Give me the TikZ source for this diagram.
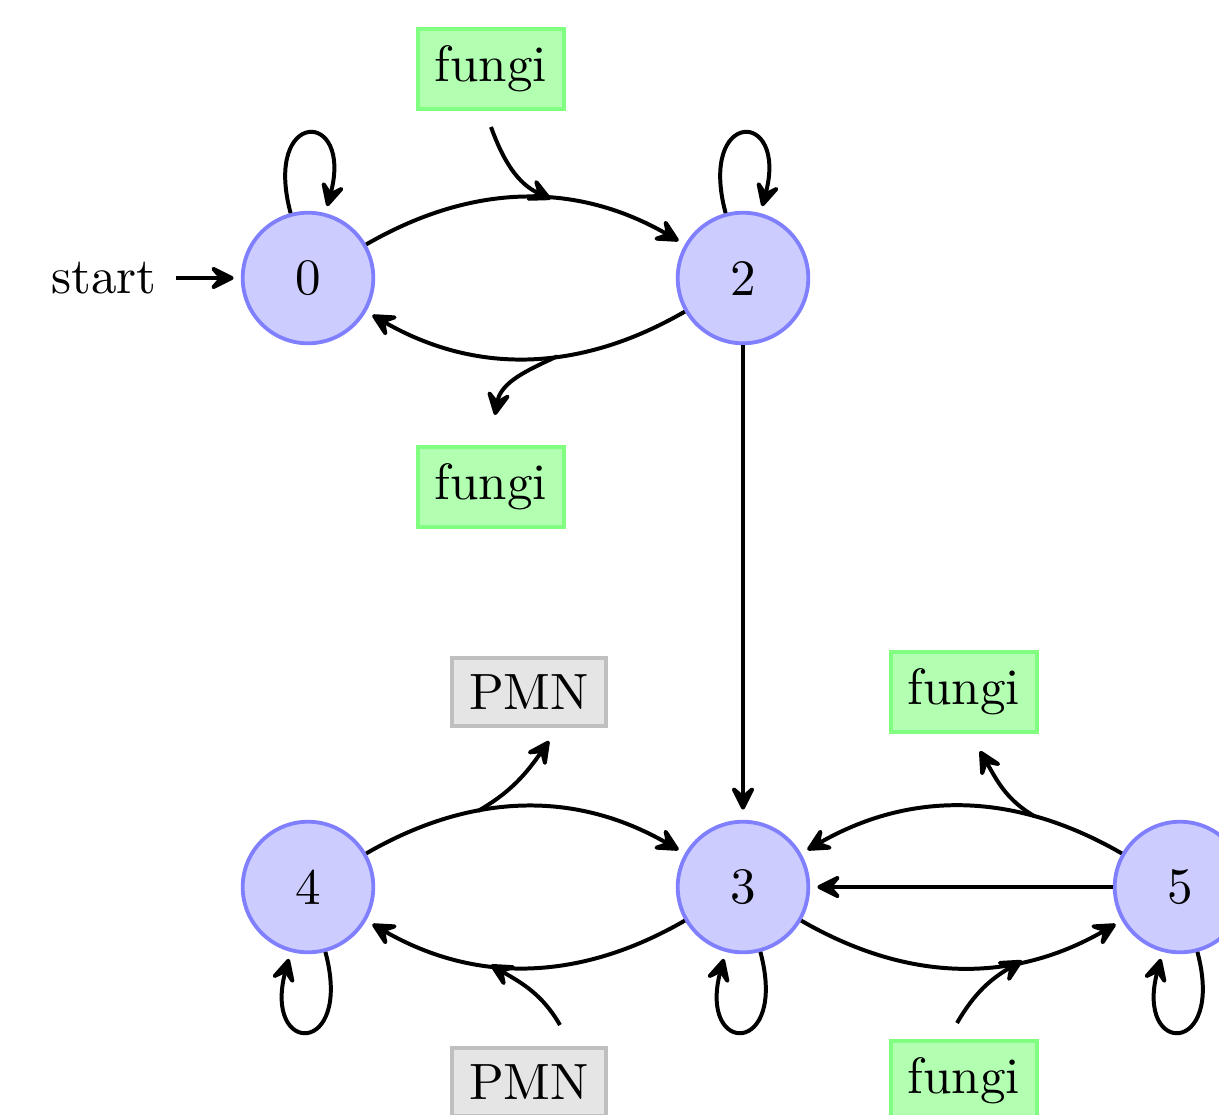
\documentclass[tikz,border=0pt]{standalone}
\usetikzlibrary{arrows.meta}
\begin{document}
\begin{tikzpicture}[x=0.196pt, y=0.196pt,
  >={Stealth[round, length=6pt, width=6pt, inset=2.6pt]},
  line width=0.78pt,
  trans/.style={->, shorten >=1.4pt},
  selfloop/.style={->, shorten >=1.4pt, looseness=9},
  stateb/.style={circle, draw=blue!50, fill=blue!20, line width=0.75pt, minimum size=25.6pt, inner sep=0pt},
  fungus/.style={rectangle, draw=green!50, fill=green!30, line width=0.8pt},
  cell/.style={rectangle, draw=black!25, fill=black!10, line width=0.8pt}]
\useasboundingbox (0,0) rectangle (1219,-1114);

% states
\node[stateb] (q0) at (308,-278) {0};
\node[stateb] (q2) at (743,-278) {2};
\node[stateb] (q4) at (308,-887) {4};
\node[stateb] (q3) at (743,-887) {3};
\node[stateb] (q5) at (1180,-887) {5};
\node (st) at (104,-278) {start};

% labels
\node[fungus] (f1) at (491,-69) {fungi};
\node[fungus] (f2) at (491,-487) {fungi};
\node[cell] (p1) at (529,-692) {PMN};
\node[cell] (p2) at (529,-1082) {PMN};
\node[fungus] (f3) at (964,-692) {fungi};
\node[fungus] (f4) at (964,-1081) {fungi};

% free ends of the label arrows
\coordinate (c1) at (491,-127);
\coordinate (c2) at (495,-415);
\coordinate (c3) at (549,-741);
\coordinate (c4) at (560,-1025);
\coordinate (c5) at (980,-751);
\coordinate (c6) at (957,-1023);

% transitions
\draw[trans] (st) -- (q0);
\draw[trans] (q0) to[bend left] coordinate[pos=0.58] (e02) (q2);
\draw[trans] (q2) to[bend left] coordinate[pos=0.4] (e20) (q0);
\draw[trans, shorten >=2pt] (q2) -- (q3);
\draw[trans] (q4) to[bend left] coordinate[pos=0.35] (e43) (q3);
\draw[trans] (q3) to[bend left] coordinate[pos=0.61] (e34) (q4);
\draw[trans] (q3) to[bend right] coordinate[pos=0.69] (e35) (q5);
\draw[trans] (q5) to[bend right] coordinate[pos=0.27] (e53) (q3);
\draw[trans] (q5) -- (q3);

% self loops
\draw[selfloop] (q0) to[loop above] (q0);
\draw[selfloop] (q2) to[loop above] (q2);
\draw[selfloop] (q4) to[loop below] (q4);
\draw[selfloop] (q3) to[loop below] (q3);
\draw[selfloop] (q5) to[loop below] (q5);

% label arrows
\draw[->] (c1) to[out=-70, in=155] (e02);
\draw[->] (e20) to[out=205, in=80] (c2);
\draw[->] (e43) to[out=30, in=235] (c3);
\draw[->] (c4) to[out=120, in=-30] (e34);
\draw[->] (e53) to[out=150, in=-60] (c5);
\draw[->] (c6) to[out=60, in=210] (e35);
\end{tikzpicture}
\end{document}
